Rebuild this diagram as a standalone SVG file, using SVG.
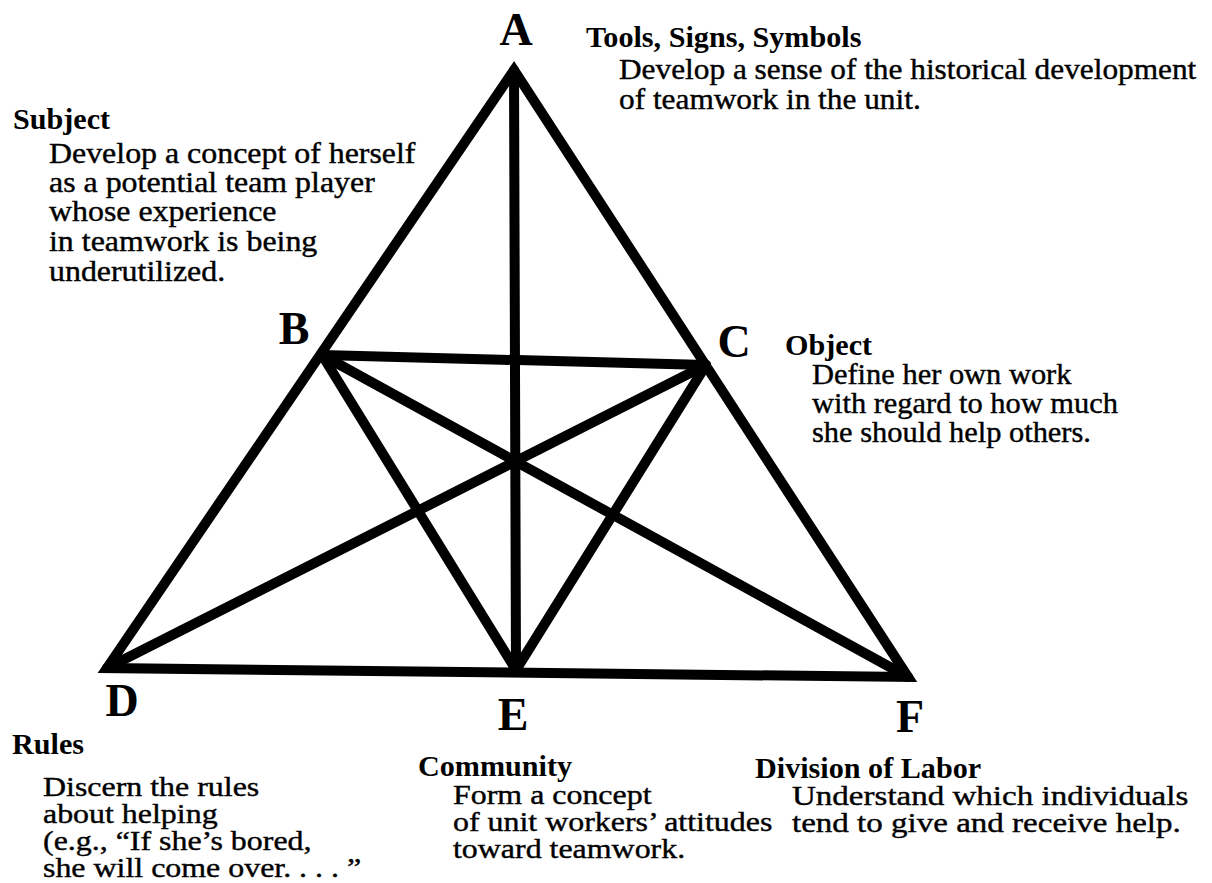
<svg xmlns="http://www.w3.org/2000/svg" width="1212" height="883" viewBox="0 0 1212 883">
<style>
.l{fill:none;stroke:#000;stroke-width:10;stroke-linecap:round;stroke-linejoin:miter}
.v{font-family:"Liberation Serif","Times New Roman",serif;font-weight:bold;font-size:46px;fill:#000}
.h{font-family:"Liberation Serif","Times New Roman",serif;font-weight:bold;font-size:29px;fill:#000}
.t{font-family:"Liberation Serif","Times New Roman",serif;font-size:29px;fill:#000;stroke:#000;stroke-width:0.4}
.s{font-family:"Liberation Serif","Times New Roman",serif;font-size:28px;fill:#000;stroke:#000;stroke-width:0.4}
</style>
<rect width="1212" height="883" fill="#fff"/>
<g id="connectors">
<polygon class="l" points="514,70 107,668 908,677"/>
<line class="l" x1="514" y1="70" x2="516" y2="670"/>
<line class="l" x1="322" y1="355" x2="706" y2="365"/>
<line class="l" x1="322" y1="355" x2="516" y2="670"/>
<line class="l" x1="322" y1="355" x2="908" y2="677"/>
<line class="l" x1="706" y1="365" x2="107" y2="668"/>
<line class="l" x1="706" y1="365" x2="516" y2="670"/>
</g>
<g id="node-A">
<text class="v" x="516" y="45" text-anchor="middle">A</text>
<text class="h" transform="translate(586 47) scale(1.04 1)">Tools, Signs, Symbols</text>
<text class="t" transform="translate(619 79) scale(1.08 1)">Develop a sense of the historical development</text>
<text class="t" transform="translate(619 109) scale(1.08 1)">of teamwork in the unit.</text>
</g>
<g id="node-B">
<text class="v" x="294" y="344" text-anchor="middle">B</text>
<text class="h" transform="translate(13 129) scale(1.04 1)">Subject</text>
<text class="t" transform="translate(49 163) scale(1.1 1)">Develop a concept of herself</text>
<text class="t" transform="translate(49 192) scale(1.1 1)">as a potential team player</text>
<text class="t" transform="translate(49 221) scale(1.1 1)">whose experience</text>
<text class="t" transform="translate(49 251) scale(1.1 1)"> in teamwork is being</text>
<text class="t" transform="translate(49 281) scale(1.1 1)">underutilized.</text>
</g>
<g id="node-C">
<text class="v" x="734" y="357" text-anchor="middle">C</text>
<text class="h" transform="translate(785 355) scale(1.04 1)">Object</text>
<text class="t" transform="translate(812 384) scale(1.05 1)">Define her own work</text>
<text class="t" transform="translate(812 413) scale(1.05 1)">with regard to how much</text>
<text class="t" transform="translate(812 442) scale(1.05 1)">she should help others.</text>
</g>
<g id="node-D">
<text class="v" x="122" y="716" text-anchor="middle">D</text>
<text class="h" transform="translate(12 754) scale(1.04 1)">Rules</text>
<text class="s" transform="translate(43 796) scale(1.14 1)">Discern the rules</text>
<text class="s" transform="translate(43 823) scale(1.14 1)">about helping</text>
<text class="s" transform="translate(43 850) scale(1.14 1)">(e.g., “If she’s bored,</text>
<text class="s" transform="translate(43 877) scale(1.14 1)">she will come over. . . . ”</text>
</g>
<g id="node-E">
<text class="v" x="513" y="730" text-anchor="middle">E</text>
<text class="h" transform="translate(418 776) scale(1.04 1)">Community</text>
<text class="s" transform="translate(453 804) scale(1.14 1)">Form a concept</text>
<text class="s" transform="translate(453 831) scale(1.14 1)">of unit workers’ attitudes</text>
<text class="s" transform="translate(453 858) scale(1.14 1)">toward teamwork.</text>
</g>
<g id="node-F">
<text class="v" x="910" y="732" text-anchor="middle">F</text>
<text class="h" transform="translate(755 778) scale(1.04 1)">Division of Labor</text>
<text class="s" transform="translate(792 805) scale(1.18 1)">Understand which individuals</text>
<text class="s" transform="translate(792 832) scale(1.18 1)">tend to give and receive help.</text>
</g>
</svg>
